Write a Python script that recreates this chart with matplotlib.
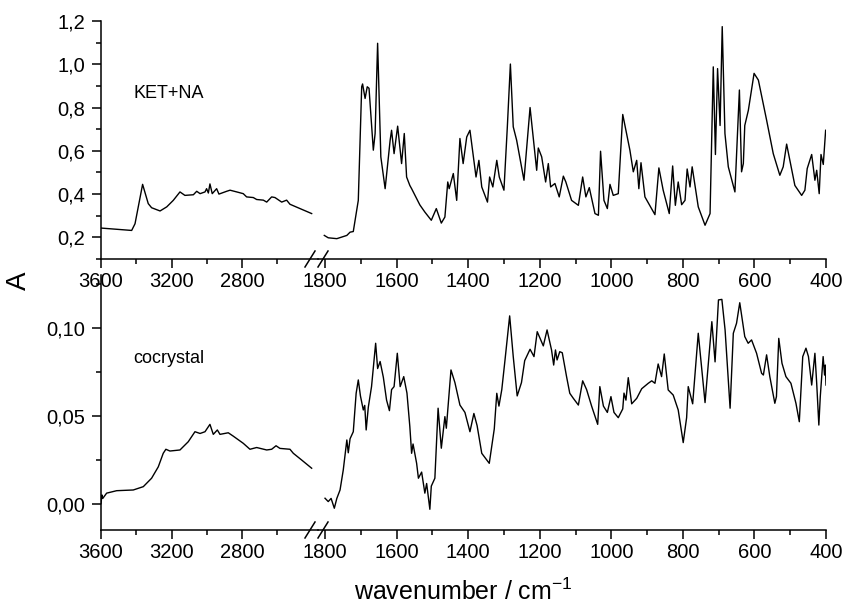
import matplotlib
matplotlib.use("Agg")
import matplotlib.pyplot as plt
from matplotlib.lines import Line2D

plt.rcParams['font.family'] = ['Liberation Sans', 'DejaVu Sans']
plt.rcParams['mathtext.default'] = 'regular'

# KET+NA spectrum (upper panel)
ket_hi_wn = [3600, 3426, 3407, 3364, 3332, 3313, 3265, 3227, 3190, 3152, 3124, 3076, 3057, 3038,
             3010, 3001, 2991, 2982, 2969, 2944, 2931, 2887, 2868, 2830, 2793, 2774, 2736, 2717,
             2679, 2660, 2632, 2613, 2575, 2547, 2528, 2471, 2405]
ket_hi_a = [0.243, 0.232, 0.263, 0.445, 0.356, 0.337, 0.322, 0.341, 0.371, 0.41, 0.394, 0.397, 0.413, 0.402,
            0.41, 0.425, 0.405, 0.447, 0.402, 0.425, 0.40, 0.413, 0.418, 0.41, 0.402, 0.387, 0.384, 0.375,
            0.372, 0.363, 0.387, 0.384, 0.363, 0.372, 0.353, 0.333, 0.31]

ket_lo_wn = [1802, 1791, 1767, 1739, 1730, 1721, 1707, 1697.5, 1695, 1688, 1682, 1677, 1665, 1660, 1653,
             1644, 1632, 1618, 1614, 1607, 1597, 1586, 1578.5, 1572, 1563, 1558, 1544, 1535, 1521, 1503,
             1489, 1475, 1465, 1457, 1453, 1441.5, 1432, 1423, 1414, 1404, 1395, 1378, 1370, 1362, 1346,
             1340, 1331, 1320, 1313, 1300, 1290.5, 1282, 1274, 1264.5, 1244, 1227, 1208.5, 1204, 1194.5,
             1183.5, 1176, 1169.5, 1157.5, 1145.5, 1134, 1127, 1111, 1092, 1080, 1071, 1061.5, 1045.6,
             1036, 1030, 1020.5, 1011, 1003.7, 994.5, 980.5, 968, 948, 938.5, 929, 923, 917, 906, 878,
             867, 855, 838, 828.5, 821, 813, 803.4, 794, 788, 780, 774, 757, 738, 724, 715, 709, 703,
             696, 690, 682.4, 673, 654.5, 648, 642, 636, 631, 627, 617, 601, 589, 566, 547.4, 529, 519.6,
             510, 501, 487, 468, 459, 452.5, 440, 431, 426, 419, 414, 407.6, 403, 401]
ket_lo_a = [0.209, 0.198, 0.194, 0.209, 0.224, 0.227, 0.371, 0.896, 0.909, 0.842, 0.896, 0.889, 0.603, 0.68, 1.097,
            0.572, 0.425, 0.649, 0.695, 0.587, 0.714, 0.541, 0.68, 0.479, 0.44, 0.425, 0.38, 0.35, 0.317, 0.279,
            0.333, 0.266, 0.294, 0.456, 0.425, 0.495, 0.371, 0.657, 0.541, 0.664, 0.695, 0.479, 0.556, 0.433, 0.363,
            0.479, 0.433, 0.556, 0.479, 0.418, 0.711, 1.001, 0.711, 0.649, 0.464, 0.8, 0.51, 0.613, 0.572,
            0.456, 0.541, 0.433, 0.449, 0.387, 0.483, 0.456, 0.371, 0.348, 0.479, 0.387, 0.43, 0.31,
            0.302, 0.598, 0.371, 0.333, 0.445, 0.394, 0.402, 0.768, 0.603, 0.503, 0.556, 0.425, 0.545, 0.387, 0.305,
            0.521, 0.418, 0.31, 0.53, 0.348, 0.456, 0.351, 0.371, 0.516, 0.433, 0.526, 0.341, 0.256, 0.31, 0.988, 0.583, 0.98,
            0.717, 1.174, 0.68, 0.526, 0.41, 0.649, 0.881, 0.503, 0.541, 0.717, 0.787, 0.958, 0.927, 0.742, 0.587, 0.487, 0.526,
            0.631, 0.556, 0.44, 0.394, 0.418, 0.518, 0.583, 0.464, 0.51, 0.402, 0.583, 0.537, 0.649, 0.695]

# cocrystal spectrum (lower panel)
coc_hi_wn = [3600, 3595, 3590, 3568, 3511, 3417, 3360, 3313, 3275, 3247, 3232, 3209, 3152, 3105, 3067,
             3038, 3010, 2982, 2963, 2940, 2925, 2878, 2850, 2793, 2755, 2717, 2660, 2632, 2607, 2585,
             2528, 2509, 2462, 2405]
coc_hi_a = [0.000, 0.005, 0.003, 0.006, 0.0074, 0.0078, 0.0097, 0.0145, 0.021, 0.0287, 0.031, 0.030, 0.0306, 0.0353, 0.041,
            0.040, 0.041, 0.0452, 0.0395, 0.042, 0.0395, 0.0404, 0.0385, 0.0344, 0.031, 0.032, 0.0306, 0.031, 0.033, 0.0315,
            0.031, 0.0287, 0.0249, 0.0202]

coc_lo_wn = [1800, 1791, 1783, 1774, 1767, 1758, 1749, 1739, 1735, 1730, 1721, 1713, 1707, 1701, 1693, 1689,
             1685, 1679, 1670, 1658.5, 1653, 1646, 1637, 1628, 1620, 1614, 1607, 1598, 1590, 1580, 1571,
             1563, 1558, 1554, 1544, 1539, 1530, 1521, 1516, 1507, 1503, 1493, 1484, 1475, 1465, 1461,
             1448, 1437, 1423, 1409, 1395, 1384, 1375, 1362, 1341, 1327, 1320, 1314, 1306, 1297, 1284,
             1274, 1263, 1251, 1242, 1227, 1216, 1207, 1190, 1179.5, 1167, 1161, 1156, 1151.5, 1144, 1137,
             1125, 1116, 1106, 1092, 1080, 1069, 1055, 1038, 1032, 1022, 1011, 1001, 992.5, 980.5, 968,
             964.5, 959, 952.6, 943, 929, 915, 896.7, 887, 878, 869, 859.5, 852, 841, 827, 813, 799, 789.5,
             785, 772.6, 757, 738, 719, 710, 700.5, 691, 682, 668, 659, 650, 641, 627, 617.5, 608, 594,
             580, 575, 566, 557, 543, 538.5, 532, 523, 512, 498, 484, 474.6, 465, 456, 449, 440, 431, 426,
             420, 416, 408, 404, 402, 400]
coc_lo_a = [0.0031, 0.0012, 0.003, -0.0026, 0.003, 0.0078, 0.0192, 0.0363, 0.029, 0.037, 0.041, 0.0629, 0.0705, 0.0614, 0.0534, 0.056,
            0.042, 0.055, 0.0667, 0.0914, 0.077, 0.081, 0.072, 0.059, 0.053, 0.065, 0.0667, 0.0857, 0.0667, 0.0724, 0.063,
            0.044, 0.0287, 0.034, 0.023, 0.0145, 0.018, 0.006, 0.0115, -0.0032, 0.010, 0.0145, 0.0544, 0.0316, 0.0496, 0.043,
            0.0762, 0.069, 0.0562, 0.052, 0.041, 0.0514, 0.0445, 0.0287, 0.023, 0.0426, 0.0629, 0.0556, 0.065, 0.0819, 0.107,
            0.0838, 0.0614, 0.069, 0.0815, 0.088, 0.0838, 0.098, 0.0899, 0.099, 0.0876, 0.079, 0.0876, 0.0819, 0.0866, 0.086,
            0.0724, 0.0629, 0.060, 0.0562, 0.070, 0.065, 0.0556, 0.0452, 0.0667, 0.0556, 0.052, 0.061, 0.052, 0.049, 0.054,
            0.063, 0.059, 0.0718, 0.0569, 0.060, 0.0655, 0.0686, 0.070, 0.0686, 0.0796, 0.0724, 0.0853, 0.0648, 0.0619, 0.0534, 0.0348, 0.049,
            0.0667, 0.0569, 0.0971, 0.0576, 0.1037, 0.0808, 0.1161, 0.1164, 0.099, 0.0544, 0.0971, 0.1028, 0.1145, 0.0952, 0.0914, 0.0933, 0.0857,
            0.0743, 0.0733, 0.0848, 0.0724, 0.0572, 0.061, 0.0942, 0.080, 0.0724, 0.0686, 0.0572, 0.0467, 0.0838, 0.0886, 0.0838, 0.0676, 0.0857, 0.0686,
            0.0448, 0.061, 0.0838, 0.0733, 0.079, 0.0676]

hi_ticks = [3600, 3200, 2800]
hi_minor = [3400, 3000, 2600]
lo_ticks = [1800, 1600, 1400, 1200, 1000, 800, 600, 400]
lo_minor = [1700, 1500, 1300, 1100, 900, 700, 500]

top_yticks = [0.2, 0.4, 0.6, 0.8, 1.0, 1.2]
top_ylabels = ['0,2', '0,4', '0,6', '0,8', '1,0', '1,2']
top_yminor = [0.1, 0.3, 0.5, 0.7, 0.9, 1.1]
bot_yticks = [0.0, 0.05, 0.10]
bot_ylabels = ['0,00', '0,05', '0,10']
bot_yminor = [0.025, 0.075, 0.125]

W, H = 845, 612
fig = plt.figure(figsize=(W / 100, H / 100), dpi=100)

# axes boxes in pixels: left part 101-318, right part 318-826
xl0, xmid, xr1 = 101, 318, 826
rows = [(21, 259), (275, 530)]

panels = [
    (ket_hi_wn, ket_hi_a, ket_lo_wn, ket_lo_a, (0.1, 1.2), top_yticks, top_ylabels, top_yminor, 'KET+NA', 0.867),
    (coc_hi_wn, coc_hi_a, coc_lo_wn, coc_lo_a, (-0.015, 0.1303), bot_yticks, bot_ylabels, bot_yminor, 'cocrystal', 0.083),
]

lw_sp = 1.1
for (y0, y1), (hw, ha, lw_, la, ylim, yt, ytl, ytm, name, ty) in zip(rows, panels):
    b = (H - y1) / H
    h = (y1 - y0) / H
    axl = fig.add_axes([xl0 / W, b, (xmid - xl0) / W, h])
    axr = fig.add_axes([xmid / W, b, (xr1 - xmid) / W, h])

    axl.plot(hw, ha, color='black', lw=1.0)
    axr.plot(lw_, la, color='black', lw=1.0)

    axl.set_xlim(3600, 2369)
    axr.set_xlim(1819.6, 400)
    for ax in (axl, axr):
        ax.set_ylim(*ylim)
        ax.spines['top'].set_visible(False)
        ax.spines['right'].set_visible(False)
        ax.spines['bottom'].set_linewidth(lw_sp)
        ax.spines['left'].set_linewidth(lw_sp)
        ax.tick_params(which='major', direction='out', length=6.5, width=lw_sp, labelsize=14.5, pad=3)
        ax.tick_params(which='minor', direction='out', length=3.3, width=lw_sp)
        ax.patch.set_visible(False)

    axl.set_xticks(hi_ticks)
    axl.set_xticks(hi_minor, minor=True)
    axl.set_xticklabels([str(t) for t in hi_ticks])
    axr.set_xticks(lo_ticks)
    axr.set_xticks(lo_minor, minor=True)
    axr.set_xticklabels([str(t) for t in lo_ticks])

    axl.set_yticks(yt)
    axl.set_yticklabels(ytl)
    axl.set_yticks(ytm, minor=True)
    axl.tick_params(axis='y', which='major', pad=5)
    axr.spines['left'].set_visible(False)
    axr.set_yticks([])

    axl.text(3418, ty, name, fontsize=13, va='center', ha='left')

    # break marks
    for cx in (310, 323):
        fig.add_artist(Line2D([(cx - 5) / W, (cx + 5) / W],
                              [(H - y1 - 8) / H, (H - y1 + 8) / H],
                              color='black', lw=1.1))

fig.text(19 / W, 1 - 281 / H, 'A', rotation=90, fontsize=20, ha='center', va='center')
fig.text(463 / W, 1 - 600 / H, 'wavenumber / cm$^{-1}$', fontsize=18, ha='center', va='baseline')

fig.savefig('out.png', dpi=100)
